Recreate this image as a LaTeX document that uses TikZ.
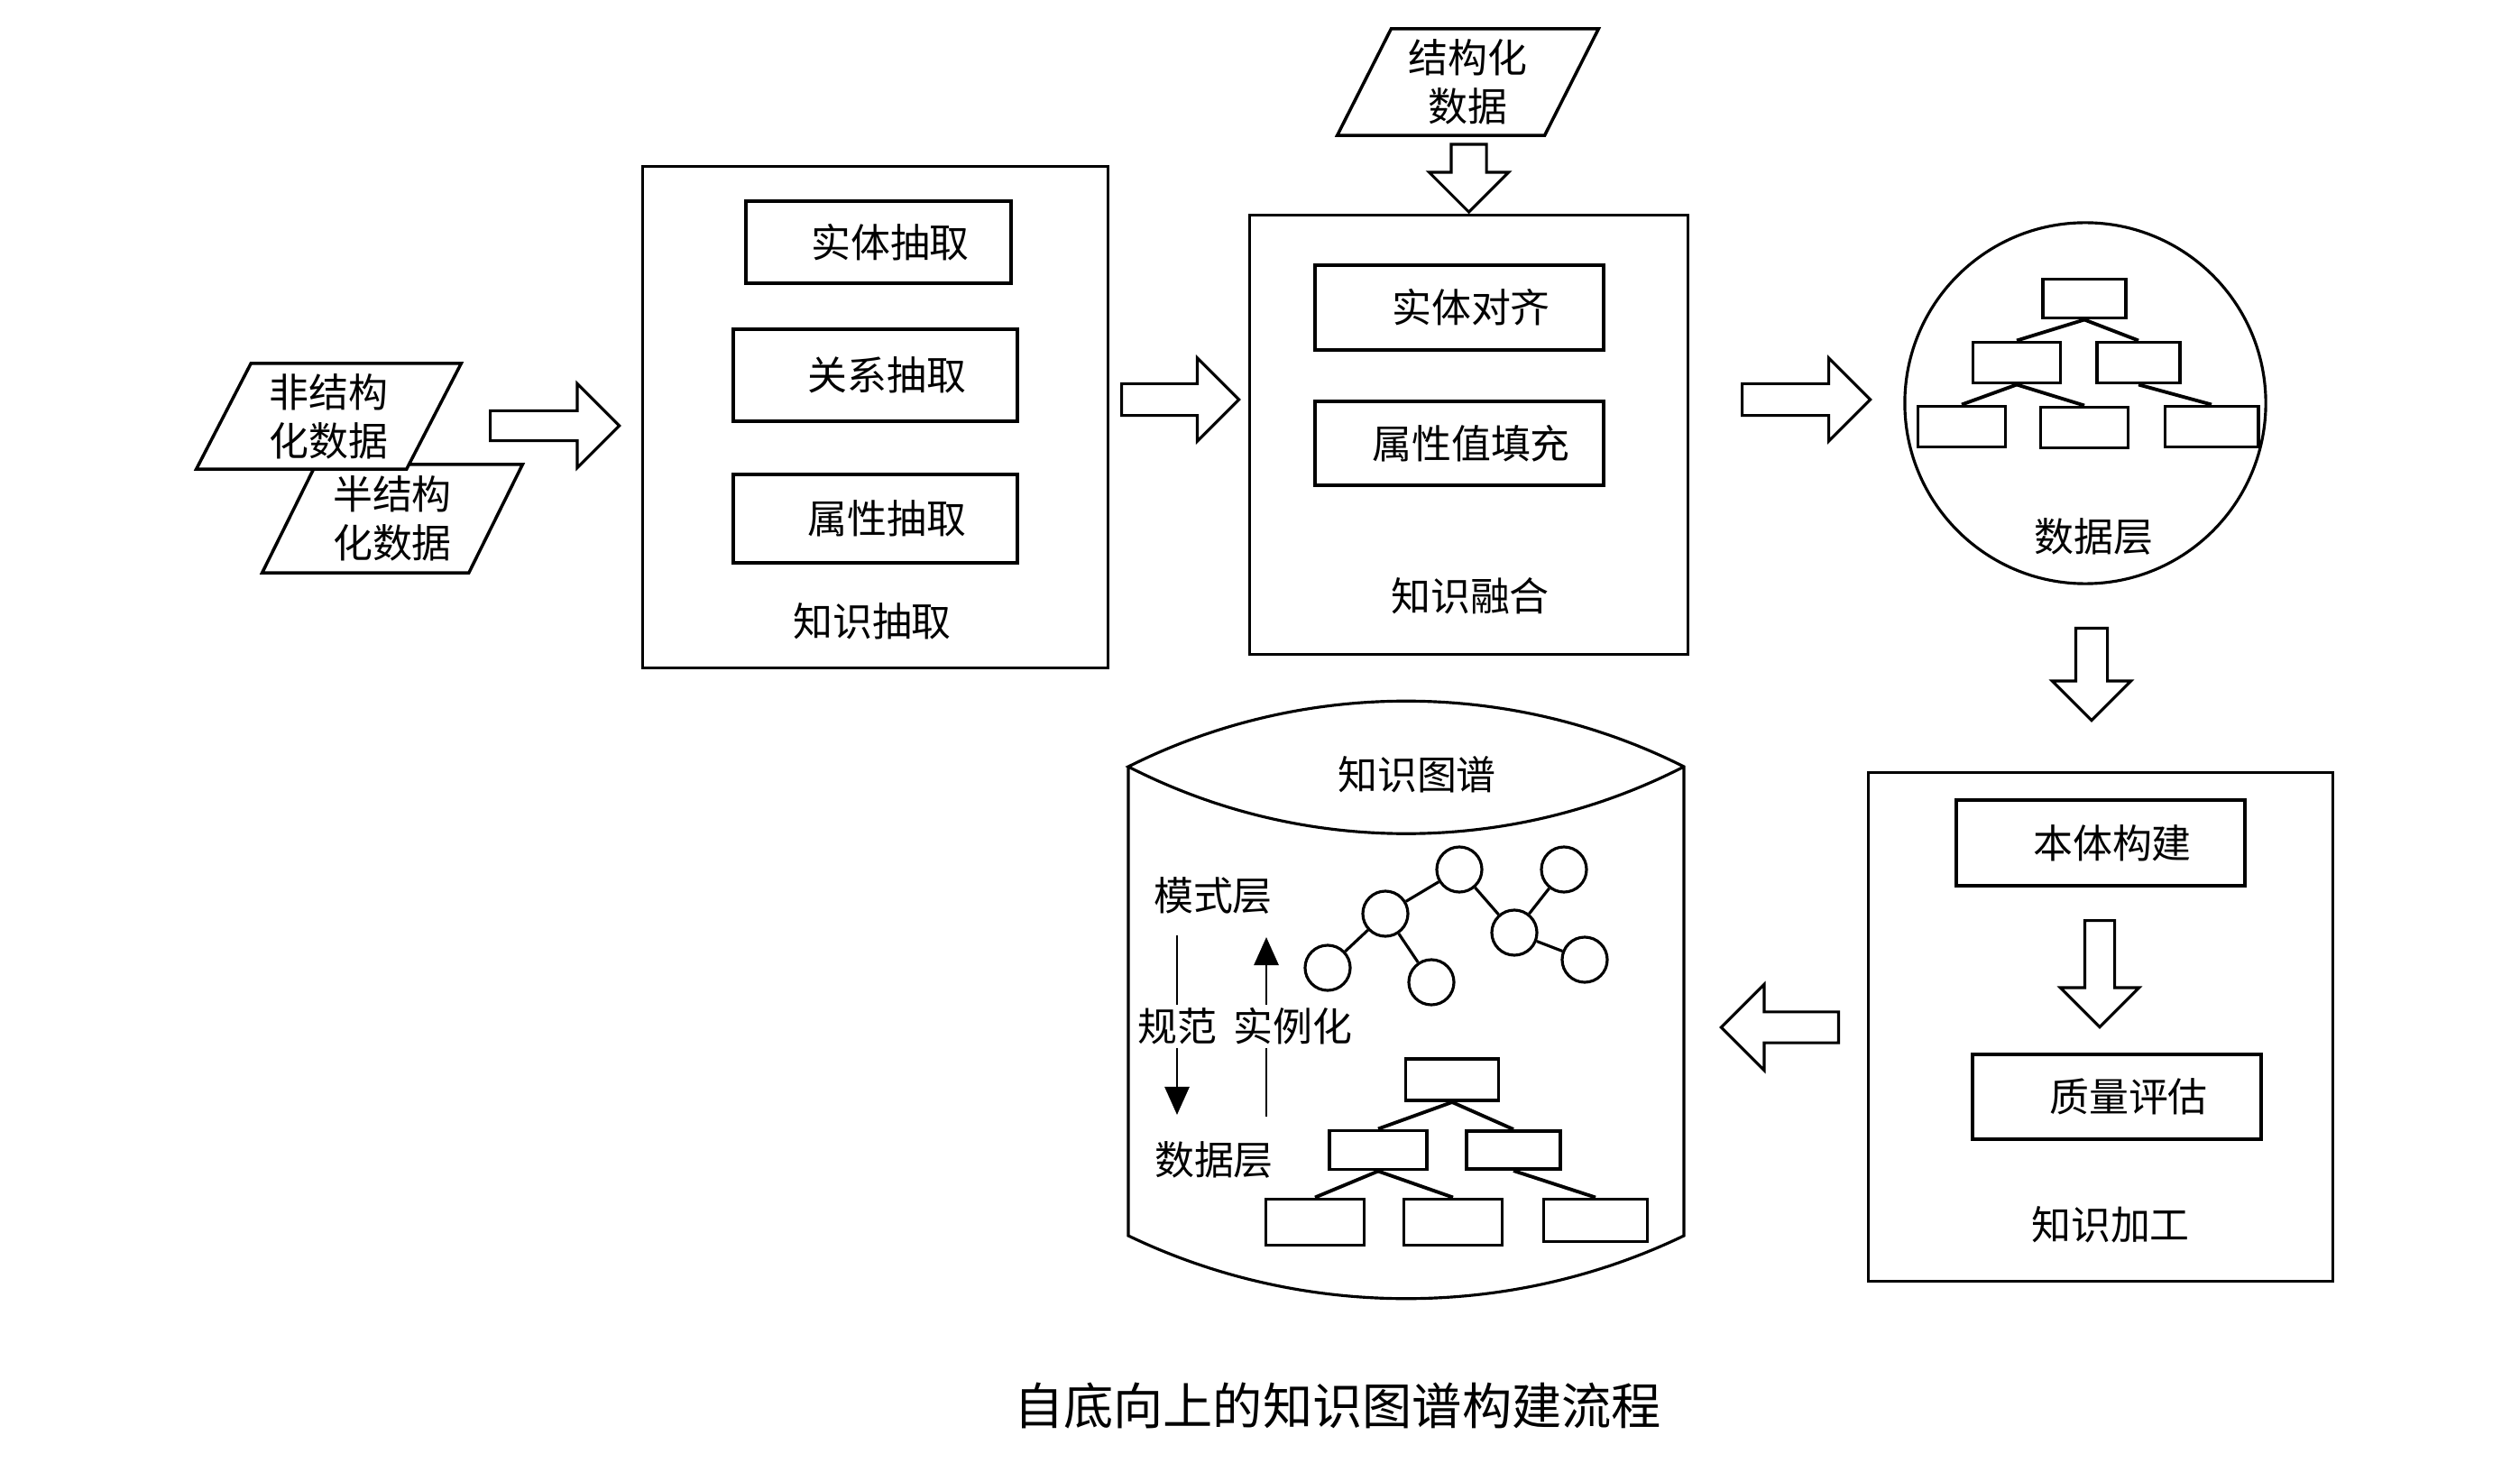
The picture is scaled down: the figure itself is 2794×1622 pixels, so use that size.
\documentclass[tikz,border=0pt]{standalone}
\usepackage{fontspec}
\setmainfont{Noto Sans CJK SC}
\usetikzlibrary{positioning, shapes.geometric, shapes.arrows, arrows.meta}
\tikzset{
    %Define style for boxes
    stagebox/.style={
           rectangle,
           draw=black, line width=0.9pt,
           inner sep=0pt},
 %
    taskbox/.style={
           rectangle,
           draw=black, line width=1.2pt,
           inner sep=0pt,
           execute at begin node={\hspace*{0.26cm}},
           font=\fontsize{12.5}{15}\selectfont},
 %
    sourcebox/.style={
           trapezium, trapezium stretches=true,
           trapezium left angle=64, trapezium right angle=116,
           draw=black, line width=1pt, fill=white,
           inner sep=0pt, align=center,
           font=\fontsize{12.5}{15.4}\selectfont},
 %
    treebox/.style={
           rectangle,
           draw=black, line width=1.1pt,
           minimum width=0.97cm, minimum height=0.45cm,
           inner sep=0pt},
 %
    entity/.style={
           circle,
           draw=black, line width=0.9pt,
           minimum size=0.5cm, inner sep=0pt},
 %
    nametag/.style={
           font=\fontsize{12.5}{15}\selectfont,
           inner sep=1pt},
%
    % Define arrow style
    fatarrow/.style={
           single arrow,
           draw=black, line width=0.9pt, fill=white,
           inner xsep=0pt, inner ysep=0.15cm,
           single arrow head extend=0.3cm,
           minimum height=#1},
    thinarrow/.style={
           -{Triangle[width=0.27cm,length=0.31cm]},
           line width=0.8pt}
}

\begin{document}
\begin{tikzpicture}[x=0.01cm, y=-0.01cm]
  \useasboundingbox (0,0) rectangle (2794,1622);

  % data sources
  \node[sourcebox, minimum width=2.90cm, minimum height=1.20cm] (semi) at (435,575) {半结构\\化数据};
  \node[sourcebox, minimum width=2.95cm, minimum height=1.17cm] (unstr) at (364.5,461.5) {非结构\\化数据};
  \node[sourcebox, minimum width=2.91cm, minimum height=1.18cm] (struct) at (1627.5,91) {结构化\\数据};

  % knowledge extraction
  \node[stagebox, minimum width=5.15cm, minimum height=5.55cm] (extract) at (970.5,462.5) {};
  \node[taskbox, minimum width=2.94cm, minimum height=0.91cm] (ent) at (974,268.5) {实体抽取};
  \node[taskbox, minimum width=3.15cm, minimum height=1.02cm] (rel) at (970.5,416) {关系抽取};
  \node[taskbox, minimum width=3.15cm, minimum height=0.98cm] (attr) at (970.5,575) {属性抽取};
  \node[nametag] (extractname) at (967,689) {知识抽取};

  % knowledge fusion
  \node[stagebox, minimum width=4.85cm, minimum height=4.86cm] (fuse) at (1628.5,482) {};
  \node[taskbox, minimum width=3.20cm, minimum height=0.94cm] (align) at (1618,341) {实体对齐};
  \node[taskbox, minimum width=3.20cm, minimum height=0.93cm] (fillin) at (1618,491.5) {属性值填充};
  \node[nametag] (fusename) at (1630,661) {知识融合};

  % data layer
  \node[circle, draw=black, line width=0.9pt, minimum size=4.0cm, inner sep=0pt] (layer) at (2312,447) {};
  \node[treebox, minimum width=0.92cm, minimum height=0.43cm] (ltop) at (2311,331) {};
  \node[treebox] (lmidl) at (2236,402) {};
  \node[treebox, minimum width=0.92cm] (lmidr) at (2371,402) {};
  \node[treebox] (lbotl) at (2175,473) {};
  \node[treebox] (lbotm) at (2311,474) {};
  \node[treebox, minimum width=1.03cm] (lbotr) at (2452,473) {};
  \draw[line width=1.1pt] (ltop.south) -- (lmidl.north)
                          (ltop.south) -- (lmidr.north)
                          (lmidl.south) -- (lbotl.north)
                          (lmidl.south) -- (lbotm.north)
                          (lmidr.south) -- (lbotr.north);
  \node[nametag] (layername) at (2321,595) {数据层};

  % knowledge processing
  \node[stagebox, minimum width=5.14cm, minimum height=5.63cm] (process) at (2329,1138.5) {};
  \node[taskbox, minimum width=3.20cm, minimum height=0.95cm] (onto) at (2329,934.5) {本体构建};
  \node[taskbox, minimum width=3.20cm, minimum height=0.94cm] (quality) at (2347,1216) {质量评估};
  \node[nametag] (processname) at (2340,1358) {知识加工};

  % knowledge graph
  \draw[line width=0.9pt] (1251,850) -- (1251,1370)
      .. controls (1444,1463) and (1674,1463) .. (1867,1370) -- (1867,850)
      .. controls (1674,753) and (1444,753) .. (1251,850)
      .. controls (1444,949) and (1674,949) .. (1867,850);
  \node[nametag] (kgname) at (1571,859) {知识图谱};

  \node[entity] (e1) at (1472,1073) {};
  \node[entity] (e2) at (1536,1013) {};
  \node[entity] (e3) at (1618,964) {};
  \node[entity] (e4) at (1587,1089) {};
  \node[entity] (e5) at (1679,1034) {};
  \node[entity] (e6) at (1734,964) {};
  \node[entity] (e7) at (1757,1064) {};
  \draw[line width=0.9pt] (e1) -- (e2) (e2) -- (e3) (e2) -- (e4)
                          (e3) -- (e5) (e5) -- (e6) (e5) -- (e7);

  \node[treebox, minimum width=1.03cm, minimum height=0.46cm] (ktop) at (1610,1197) {};
  \node[treebox, minimum width=1.08cm, minimum height=0.43cm] (kmidl) at (1528,1275) {};
  \node[treebox, minimum width=1.04cm, minimum height=0.42cm] (kmidr) at (1678,1275) {};
  \node[treebox, minimum width=1.09cm, minimum height=0.51cm] (kbotl) at (1458,1355) {};
  \node[treebox, minimum width=1.09cm, minimum height=0.51cm] (kbotm) at (1611,1355) {};
  \node[treebox, minimum width=1.15cm, minimum height=0.47cm] (kbotr) at (1769,1353) {};
  \draw[line width=1.1pt] (ktop.south) -- (kmidl.north)
                          (ktop.south) -- (kmidr.north)
                          (kmidl.south) -- (kbotl.north)
                          (kmidl.south) -- (kbotm.north)
                          (kmidr.south) -- (kbotr.north);

  \coordinate (specfrom) at (1305,1037);
  \coordinate (specto) at (1305,1236);
  \coordinate (instfrom) at (1404,1238);
  \coordinate (instto) at (1404,1039);
  \draw[thinarrow] (specfrom) -- (specto);
  \draw[thinarrow] (instfrom) -- (instto);
  \node[nametag] (schema) at (1345,993) {模式层};
  \node[nametag] (datalayer) at (1346,1286) {数据层};
  \node[nametag, fill=white] (spec) at (1305,1138) {规范};
  \node[nametag, fill=white] (inst) at (1433,1138) {实例化};

  % flow arrows
  \node[fatarrow=1.43cm, anchor=tail] (a1) at (542,472) {};
  \node[fatarrow=1.30cm, inner ysep=0.16cm, single arrow head extend=0.285cm, anchor=tail] (a2) at (1242,443) {};
  \node[fatarrow=1.42cm, inner ysep=0.16cm, single arrow head extend=0.285cm, anchor=tail] (a3) at (1930,443) {};
  \node[fatarrow=0.75cm, inner ysep=0.18cm, single arrow head extend=0.245cm, rotate=-90, anchor=tip] (a0) at (fuse.north) {};
  \node[fatarrow=1.02cm, inner ysep=0.16cm, single arrow head extend=0.26cm, rotate=-90, anchor=tail] (a4) at (2319,695) {};
  \node[fatarrow=1.18cm, inner ysep=0.15cm, single arrow head extend=0.27cm, rotate=-90, anchor=tail] (a5) at (2328,1019) {};
  \node[fatarrow=1.30cm, inner ysep=0.155cm, single arrow head extend=0.305cm, rotate=180, anchor=tail] (a6) at (2040,1139) {};

  % caption
  \node[font=\fontsize{15.7}{18}\selectfont] (title) at (1483,1559) {自底向上的知识图谱构建流程};
\end{tikzpicture}
\end{document}
